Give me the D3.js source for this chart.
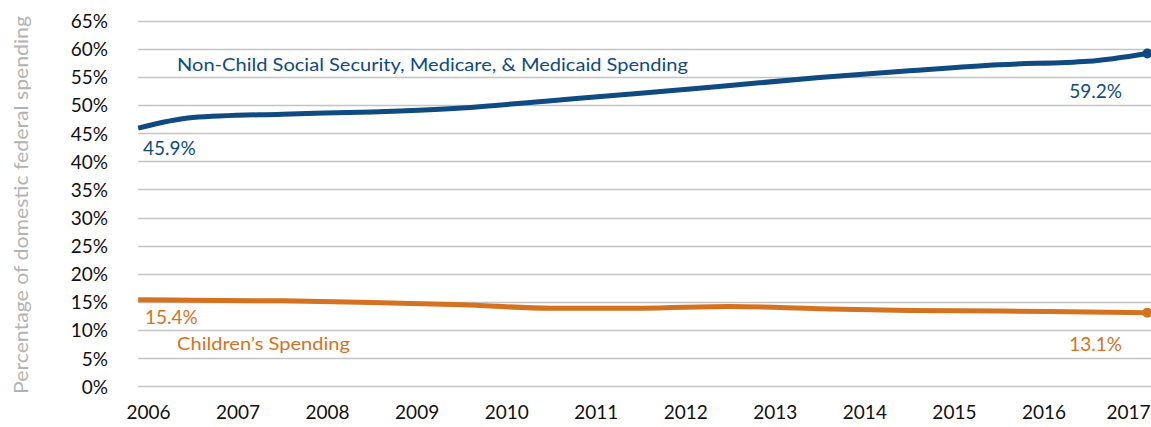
<!DOCTYPE html>
<html>
<head>
<meta charset="utf-8">
<script src="https://cdn.jsdelivr.net/npm/d3@7"></script>
<style>
  body { margin: 0; background: #fff; }
  svg { display: block; font-family: Lato, 'Noto Sans', sans-serif; }
</style>
</head>
<body>
<div id="app"></div>
<script>
const width = 1151;
const height = 427;

// values (x in fractional years, points sit between year labels)
const yearLabels = [2006, 2007, 2008, 2009, 2010, 2011, 2012, 2013, 2014, 2015, 2016, 2017];
const pointYears = [2005.89, 2006.5, 2007.5, 2008.5, 2009.5, 2010.5, 2011.5, 2012.5, 2013.5, 2014.5, 2015.5, 2016.5, 2017.16];
const nonChildValues = [45.9, 47.8, 48.4, 48.8, 49.5, 50.8, 52.1, 53.5, 54.9, 56.1, 57.2, 57.8, 59.2];
const childrenValues = [15.4, 15.3, 15.2, 14.9, 14.5, 13.9, 13.9, 14.2, 13.8, 13.5, 13.4, 13.2, 13.1];
const yTicks = [0, 5, 10, 15, 20, 25, 30, 35, 40, 45, 50, 55, 60, 65];

const blue = '#0f4a80';
const orange = '#d5721f';

const x = d3.scaleLinear().domain([2006, 2017]).range([148, 1133]);
const y = d3.scaleLinear().domain([0, 65]).range([386.3, 20.8]);

const svg = d3.create('svg')
  .attr('width', width)
  .attr('height', height);

// gridlines
svg.append('g')
  .selectAll('line')
  .data(yTicks)
  .join('line')
  .attr('x1', x(pointYears[0]))
  .attr('x2', width)
  .attr('y1', (d)=>Math.round(y(d)) + 0.5)
  .attr('y2', (d)=>Math.round(y(d)) + 0.5)
  .attr('stroke', '#c4c4c4')
  .attr('stroke-width', 1.5);

// y axis labels
const yAxis = svg.append('g')
  .attr('transform', 'translate(108,0)')
  .call(d3.axisLeft(y).tickValues(yTicks).tickFormat((d)=>d + '%').tickSize(0).tickPadding(0));
yAxis.select('.domain').remove();
yAxis.selectAll('text')
  .attr('fill', '#111')
  .attr('font-size', 19)
  .attr('font-family', 'Lato, sans-serif')
  .attr('dy', '0.36em');

// x axis labels
const xAxis = svg.append('g')
  .attr('transform', 'translate(0,400)')
  .call(d3.axisBottom(x).tickValues(yearLabels).tickFormat(d3.format('d')).tickSize(0).tickPadding(0));
xAxis.select('.domain').remove();
xAxis.selectAll('text')
  .attr('fill', '#111')
  .attr('font-size', 19)
  .attr('font-family', 'Lato, sans-serif')
  .attr('dy', '1.0em');
// last label sits flush with the right edge
xAxis.selectAll('.tick')
  .filter((d)=>d === yearLabels[yearLabels.length - 1])
  .select('text')
  .attr('text-anchor', 'end')
  .attr('x', 17);

// y title
svg.append('text')
  .attr('transform', 'translate(28,205) rotate(-90)')
  .attr('text-anchor', 'middle')
  .attr('fill', '#b3b3b3')
  .attr('font-size', 20)
  .attr('textLength', 378)
  .attr('lengthAdjust', 'spacingAndGlyphs')
  .text('Percentage of domestic federal spending');

const line = d3.line()
  .x((d)=>x(d[0]))
  .y((d)=>y(d[1]))
  .curve(d3.curveMonotoneX);

const series = [
  {values: nonChildValues, color: blue},
  {values: childrenValues, color: orange},
];

series.forEach((s)=>{
  const pts = pointYears.map((yr, i)=>[yr, s.values[i]]);
  svg.append('path')
    .datum(pts)
    .attr('d', line)
    .attr('fill', 'none')
    .attr('stroke', s.color)
    .attr('stroke-width', 5);
  const last = pts[pts.length - 1];
  svg.append('circle')
    .attr('cx', x(last[0]))
    .attr('cy', y(last[1]))
    .attr('r', 5)
    .attr('fill', s.color);
});

const fmt = (v)=>v.toFixed(1) + '%';
const n = pointYears.length - 1;

// value labels
svg.append('text')
  .attr('x', 143).attr('y', 155)
  .attr('fill', blue).attr('font-size', 19)
  .text(fmt(nonChildValues[0]));
svg.append('text')
  .attr('x', 1122).attr('y', 98)
  .attr('text-anchor', 'end')
  .attr('fill', blue).attr('font-size', 19)
  .text(fmt(nonChildValues[n]));
svg.append('text')
  .attr('x', 145).attr('y', 324)
  .attr('fill', orange).attr('font-size', 19)
  .text(fmt(childrenValues[0]));
svg.append('text')
  .attr('x', 1122).attr('y', 351)
  .attr('text-anchor', 'end')
  .attr('fill', orange).attr('font-size', 19)
  .text(fmt(childrenValues[n]));

// series names
svg.append('text')
  .attr('x', 177).attr('y', 71)
  .attr('fill', blue).attr('font-size', 18)
  .attr('textLength', 511)
  .attr('lengthAdjust', 'spacingAndGlyphs')
  .text('Non-Child Social Security, Medicare, & Medicaid Spending');
svg.append('text')
  .attr('x', 177).attr('y', 350)
  .attr('fill', orange).attr('font-size', 18)
  .attr('textLength', 173)
  .attr('lengthAdjust', 'spacingAndGlyphs')
  .text('Children\u2019s Spending');

document.getElementById('app').appendChild(svg.node());
</script>
</body>
</html>
